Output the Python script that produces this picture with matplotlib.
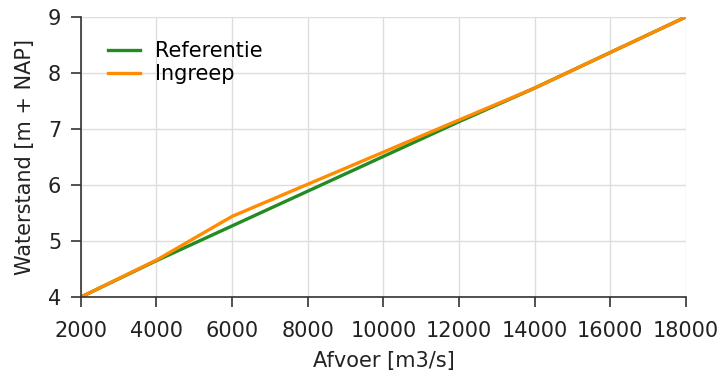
import matplotlib
matplotlib.use("Agg")
import matplotlib.pyplot as plt

# afvoer (m3/s) en waterstand (m + NAP)
q_ref = [2000, 4000, 12000, 14000, 18000]
h_ref = [4.0, 4.65, 7.13, 7.73, 9.0]
q_ing = [2000, 4000, 6000, 12000, 14000, 18000]
h_ing = [4.0, 4.66, 5.44, 7.16, 7.73, 9.0]
xticks = [2000, 4000, 6000, 8000, 10000, 12000, 14000, 16000, 18000]
yticks = [4, 5, 6, 7, 8, 9]

plt.rcParams['font.family'] = 'DejaVu Sans'
fs = 15

fig = plt.figure(figsize=(7.22, 3.76), dpi=100)
ax = fig.add_axes([0.112, 0.21, 0.838, 0.745])

ax.plot(q_ref, h_ref, color='#228b22', lw=2.4, label='Referentie')
ax.plot(q_ing, h_ing, color='#ff8c00', lw=2.4, label='Ingreep')

ax.set_xlim(2000, 18000)
ax.set_ylim(4, 9)
ax.set_xticks(xticks)
ax.set_yticks(yticks)
ax.grid(True, color='#dddddd', lw=1)
ax.set_axisbelow(True)
for s in ['top', 'right']:
    ax.spines[s].set_visible(False)
for s in ['left', 'bottom']:
    ax.spines[s].set_color('#333333')
    ax.spines[s].set_linewidth(1.2)
ax.tick_params(direction='out', length=7.2, width=1.2, color='#333333',
               labelsize=fs, labelcolor='#222222')
ax.tick_params(axis='x', pad=10)
ax.tick_params(axis='y', pad=7)

ax.set_xlabel('Afvoer [m3/s]', fontsize=fs, color='#222222', labelpad=7)
ax.set_ylabel('Waterstand [m + NAP]', fontsize=fs, color='#222222', labelpad=9)
ax.legend(loc='upper left', frameon=False, fontsize=fs, handlelength=1.55,
          handletextpad=0.7, bbox_to_anchor=(0.014, 0.98), labelspacing=0.15)

fig.savefig('out.png', dpi=100)
